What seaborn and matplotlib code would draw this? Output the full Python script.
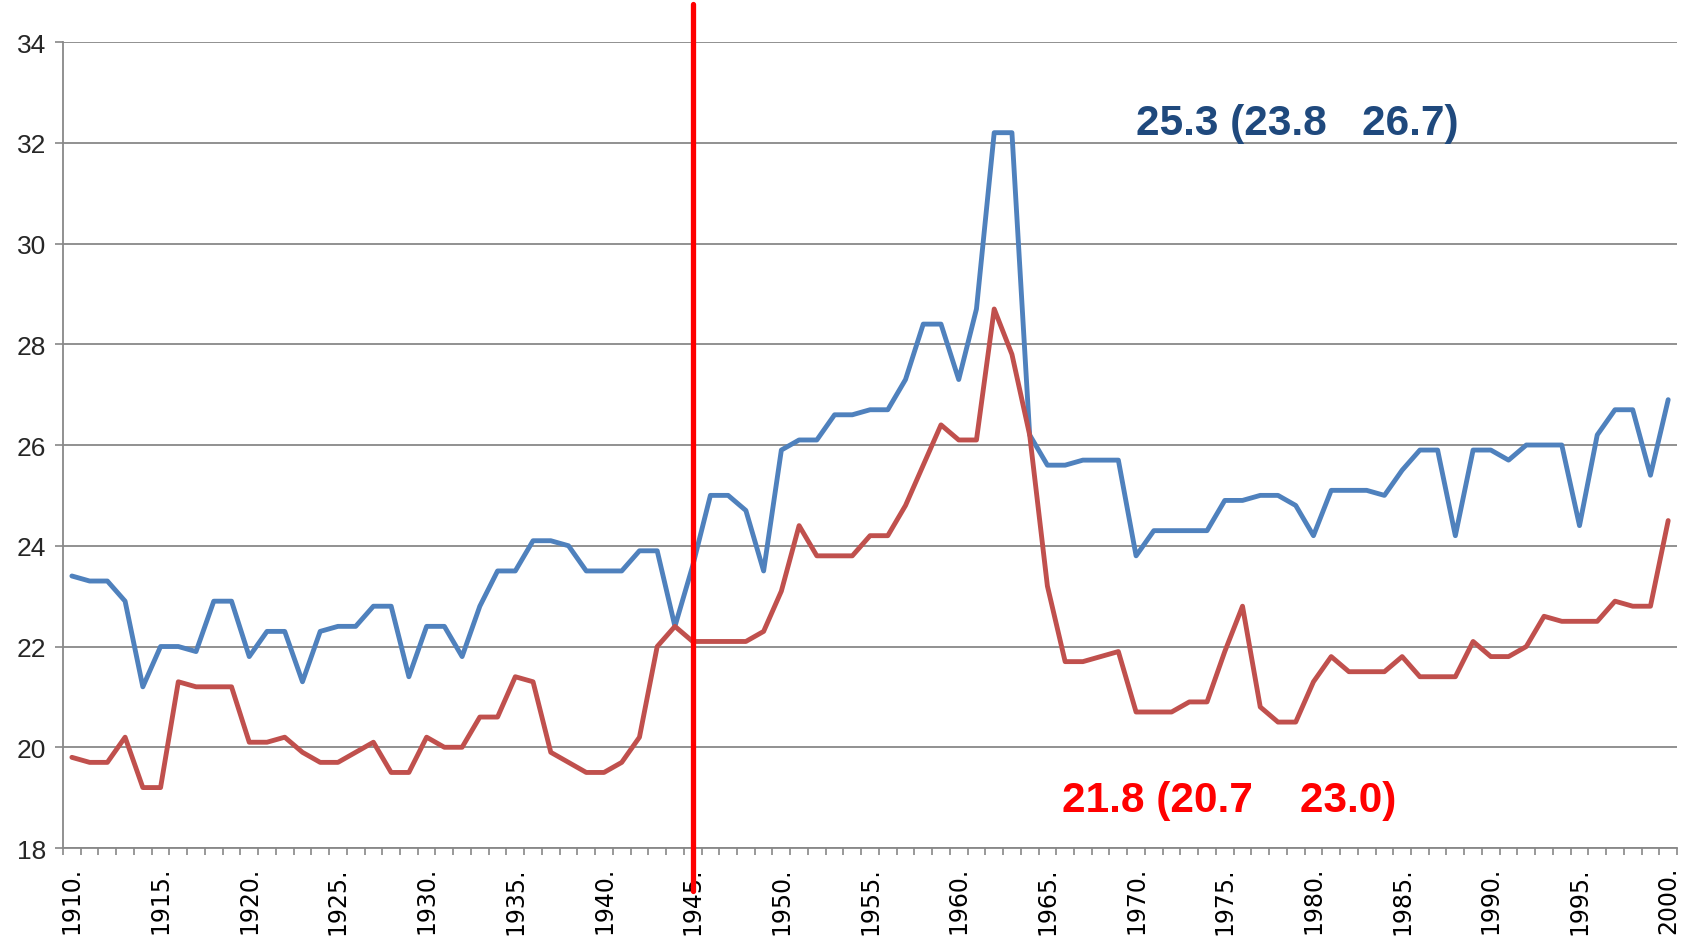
import pandas as pd
import matplotlib
matplotlib.use("Agg")
import matplotlib.pyplot as plt
import seaborn as sns
from matplotlib.ticker import FixedLocator

# yearly values
years = list(range(1910, 2001))

upper = [23.4, 23.3, 23.3, 22.9, 21.2, 22.0, 22.0, 21.9, 22.9, 22.9,
         21.8, 22.3, 22.3, 21.3, 22.3, 22.4, 22.4, 22.8, 22.8, 21.4,
         22.4, 22.4, 21.8, 22.8, 23.5, 23.5, 24.1, 24.1, 24.0, 23.5,
         23.5, 23.5, 23.9, 23.9, 22.4, 23.6, 25.0, 25.0, 24.7, 23.5,
         25.9, 26.1, 26.1, 26.6, 26.6, 26.7, 26.7, 27.3, 28.4, 28.4,
         27.3, 28.7, 32.2, 32.2, 26.2, 25.6, 25.6, 25.7, 25.7, 25.7,
         23.8, 24.3, 24.3, 24.3, 24.3, 24.9, 24.9, 25.0, 25.0, 24.8,
         24.2, 25.1, 25.1, 25.1, 25.0, 25.5, 25.9, 25.9, 24.2, 25.9,
         25.9, 25.7, 26.0, 26.0, 26.0, 24.4, 26.2, 26.7, 26.7, 25.4,
         26.9]

lower = [19.8, 19.7, 19.7, 20.2, 19.2, 19.2, 21.3, 21.2, 21.2, 21.2,
         20.1, 20.1, 20.2, 19.9, 19.7, 19.7, 19.9, 20.1, 19.5, 19.5,
         20.2, 20.0, 20.0, 20.6, 20.6, 21.4, 21.3, 19.9, 19.7, 19.5,
         19.5, 19.7, 20.2, 22.0, 22.4, 22.1, 22.1, 22.1, 22.1, 22.3,
         23.1, 24.4, 23.8, 23.8, 23.8, 24.2, 24.2, 24.8, 25.6, 26.4,
         26.1, 26.1, 28.7, 27.8, 26.2, 23.2, 21.7, 21.7, 21.8, 21.9,
         20.7, 20.7, 20.7, 20.9, 20.9, 21.9, 22.8, 20.8, 20.5, 20.5,
         21.3, 21.8, 21.5, 21.5, 21.5, 21.8, 21.4, 21.4, 21.4, 22.1,
         21.8, 21.8, 22.0, 22.6, 22.5, 22.5, 22.5, 22.9, 22.8, 22.8,
         24.5]

marker_year = 1945
upper_note = "25.3 (23.8   26.7)"
lower_note = "21.8 (20.7    23.0)"

df = pd.DataFrame({
    "year": years * 2,
    "value": upper + lower,
    "series": ["upper"] * len(years) + ["lower"] * len(years),
})

sns.set_theme(style="white")
plt.rcParams["font.family"] = ["Liberation Sans", "DejaVu Sans"]

fig = plt.figure(figsize=(16.94, 9.37), dpi=100)
ax = fig.add_axes([0.0372, 0.0939, 0.9528, 0.8602])

sns.lineplot(data=df, x="year", y="value", hue="series",
             palette={"upper": "#4F81BD", "lower": "#C0504D"},
             linewidth=3.5, legend=False, ax=ax)

ax.set_xlim(years[0] - 0.5, years[-1] + 0.5)
ax.set_ylim(18, 34)
ax.set_yticks(range(18, 35, 2))
ax.set_xticks(years[::5])
ax.set_xticklabels([f"{y}." for y in years[::5]], rotation=90)
for lbl in ax.get_xticklabels():
    lbl.set_fontfamily("DejaVu Sans")
    lbl.set_fontsize(17)
ax.xaxis.set_minor_locator(FixedLocator([y - 0.5 for y in years] + [years[-1] + 0.5]))
ax.tick_params(axis="x", which="major", length=0, pad=13, colors="black")
ax.tick_params(axis="x", which="minor", length=5, width=1.2, color="#888888",
               direction="out", bottom=True)
ax.tick_params(axis="y", which="major", length=6, width=1.2, color="#888888",
               direction="out", left=True, labelsize=19, pad=6)

ax.grid(axis="y", color="#888888", linewidth=1.3)
ax.grid(axis="x", visible=False)
for side in ["top", "right"]:
    ax.spines[side].set_visible(False)
for side in ["left", "bottom"]:
    ax.spines[side].set_color("#888888")
    ax.spines[side].set_linewidth(1.3)
ax.set_xlabel("")
ax.set_ylabel("")

ax.axvline(marker_year, ymin=-0.053, ymax=1.047, color="#FF0000",
           linewidth=3.8, clip_on=False, zorder=5)

ax.text(1970.0, 32.4, upper_note, color="#1F497D", fontsize=30.5,
        fontweight="bold", ha="left", va="center")
ax.text(1965.8, 18.95, lower_note, color="#FF0000", fontsize=30.5,
        fontweight="bold", ha="left", va="center")

fig.savefig("out.png", dpi=100)
